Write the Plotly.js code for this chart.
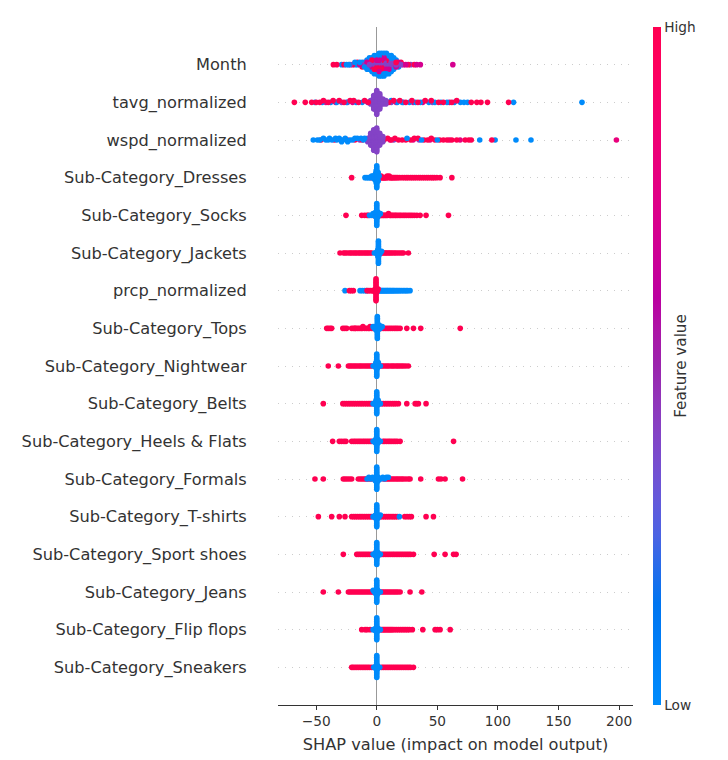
<!DOCTYPE html>
<html>
<head>
<meta charset="utf-8">
<script src="https://cdn.plot.ly/plotly-3.0.1.min.js"></script>
<style>html,body{margin:0;padding:0;background:#fff;}#chart{width:728px;height:760px;}</style>
</head>
<body>
<div id="chart"></div>
<script>
// ---------------- DATA (SHAP values) ----------------
const features = ['Month','tavg_normalized','wspd_normalized','Sub-Category_Dresses','Sub-Category_Socks',
  'Sub-Category_Jackets','prcp_normalized','Sub-Category_Tops','Sub-Category_Nightwear','Sub-Category_Belts',
  'Sub-Category_Heels & Flats','Sub-Category_Formals','Sub-Category_T-shirts','Sub-Category_Sport shoes',
  'Sub-Category_Jeans','Sub-Category_Flip flops','Sub-Category_Sneakers'];
const xTickVals = [-50, 0, 50, 100, 150, 200];
const xTickText = ['\u221250', '0', '50', '100', '150', '200'];
const colorTickText = ['Low', 'High'];

// Month (continuous feature: groups by feature value)
const month_high  = [-35.8,-33,-27,26,31,-20,-16,-12,-8,-6,-4,-2,-2,0,0,2,2,4,4,6,6,8,8,10,10,12,14,16,20];
const month_upper = [24,33,36,62.8,-14,-10,-8,-6,-6,-4,-4,-2,-2,0,0,2,2,2,4,4,4,6,6,8,8,10,10,12,12,14,16,18,22];
const month_mid   = [-22,28,-12,-10,-8,-6,-4,-4,-2,-2,0,0,2,2,4,4,6,6,6,8,8,10,10,12,12,14,16,18,20];
const month_low   = [-29,-25,-23,-18,-18,-16,-14,-12,-10,-8,-8,-6,-6,-4,-4,-2,-2,-2,0,0,0,2,2,2,2,4,4,4,4,6,6,6,6,8,8,8,8,10,10,10,12,12,12,14,14,14,16,18];

// tavg_normalized
const tavg_high  = [-68,-59,-53.7,-50,-47,-44,-40,-36,-31,-27,-22,-19,-15,-10,-7,10,14,19,24,29,34,40,45,51,55,62,66,78,82.6,86,91.4,108.8];
const tavg_upper = [-42,-34,-20,16,30,38,60];
const tavg_low   = [-51,-45,-38,-33,-25,-17,-12,8,12,17,21,27,32,36,43,48,53,58,64,69,72,75,112.9,169.4];
const tavg_mid   = [-29,-24,12,22,46,-7.5,-5,-5,-5,-2.5,-2.5,-2.5,-2.5,-2.5,-2.5,-2.5,-2.5,-2.5,
  0,0,0,0,0,0,0,0,0,0,0,0,0,0,0,2.5,2.5,2.5,2.5,2.5,2.5,2.5,2.5,2.5,2.5,5,5,5,5,7.5,7.5];

// wspd_normalized
const wspd_high  = [-46,-35,-24,-18,-12,6,9,12,15,18,21,24,28,31,34,39,42,45,48,52,55,58,62,66,73,76,78,95];
const wspd_upper = [11,30,44,60,68.8,197.8];
const wspd_low   = [-52.4,-49,-47,-44,-42,-40,-39,-37,-34,-33,-31,-29,-28,-26,-24,-22,-20,-18,-16,-13,-11,-10,25,37,50,85,97.7,114.9,127.3];
const wspd_mid   = [-30,-14,14,35,-7.5,-7.5,-7.5,-5,-5,-5,-5,-5,-5,-5,-5,-2.5,-2.5,-2.5,-2.5,-2.5,-2.5,-2.5,-2.5,-2.5,-2.5,-2.5,-2.5,-2.5,
  0,0,0,0,0,0,0,0,0,0,0,0,0,0,0,2.5,2.5,2.5,2.5,2.5,2.5,2.5,2.5,5,5,5];

// Binary features: SHAP values of rows with feature high (1) and low (0)
const dresses_high = [-20.7,-4.5,1.5,2.3,3,3.6,4.4,5,5.7,6.5,7.2,8,8.6,9.5,10.3,11.2,12,12.8,13.9,15,16.1,17.4,19,21,22.8,24.5,25.9,27.8,29.3,31,32.6,34.5,36,37.8,39.4,41.2,42.7,44.6,46.1,47.6,49.6,52.3,62];
const dresses_low  = [-9.7,-8.2,-6.8,-5.5,-4.2,-3,-3,-2,-2,-2,-1.2,-1.2,-1.2,-1.2,-0.5,-0.5,-0.5,-0.5,0,0,0,0,0,0,0,0,0,0,0,0,0,0,0.6,0.6,0.6,0.6,1.2,1.2,2];

const socks_high = [-25.4,-12.4,-10,-8,-7,-3,2.7,3.4,4.3,5.2,6,7,7.8,8.9,9.7,10.8,11.6,12.7,13.8,15.1,16,17.4,18.8,20,21.6,23,24.4,26.1,27.6,29.2,31,33.1,35.8,40.7,59.2];
const socks_low  = [-6,-4.5,-3,-2.2,-1.5,-1.5,-0.8,-0.8,-0.8,-0.8,0,0,0,0,0,0,0,0,0,0,0,0,0,0,0.8,0.8,0.8,0.8,1.5,1.5,2.2,3];

const jackets_high = [-30.3,-27.5,-26.2,-24.8,-23,-21.7,-20.5,-19,-17.8,-16.6,-15.2,-14,-12.9,-11.5,-10.3,-9,-7.9,-6.6,-5.4,-4.1,4.1,5.1,6.2,7.3,8.3,9.5,10.6,11.8,13.1,14.5,15.8,17.4,19,20.6,22,26.1];
const jackets_low  = [-2,-1,-0.5,0.5,0.5,1,1,1,1.4,1.4,1.4,1.4,1.4,1.4,1.4,1.4,1.4,1.4,1.4,1.4,1.4,1.4,2,2,2,2.5,2.5,3,4];

const prcp_low  = [-26.2,-13.8,-12,-10,-8.3,1.4,2.2,2.9,3.5,4.3,5,5.6,6.4,7.1,7.9,8.6,9.2,10.1,10.9,11.6,12.5,13.3,14.1,15,16.1,17,18.2,19.2,20.5,21.8,23.1,24.4,25.6,27.5];
const prcp_high = [-22.6,-21,-19.3,-8,-6.5,-5,-3.5,-2.5,-2,-1.5,-1.2,-1.2,-1.2,-0.6,-0.6,-0.6,-0.6,-0.6,-0.6,-0.6,-0.6,-0.6,-0.6,-0.6,-0.6,-0.6,-0.6,0,0,0,0.6,1.2];

const tops_high = [-41.3,-40,-38.5,-37.2,-28,-26.4,-24.8,-20.7,-19.2,-18,-17.5,-16,-14.6,-13,-12,-11.4,-10,-8.5,-7,-6,-5.5,-4,-2.5,4,5.5,7,8.5,10,11.5,13,14.6,16,17.5,19.3,24.8,30.3,36.3,68.9];
const tops_low  = [-3,-2,-1.2,-0.6,-0.6,-0.6,0.5,0.5,0.5,0.5,0.5,0.5,0.5,0.5,0.5,0.5,0.5,0.5,0.5,0.5,1.2,1.2,1.2,2,3,4.5];

const nightwear_high = [-40,-31.7,-23.4,-22,-20.6,-19.1,-17.7,-16.2,-14.6,-13.2,-11.7,-10.1,-8.6,-7.1,-5.6,-4.1,4,5.4,7,8.5,9.9,11.6,13,14.4,16.1,17.5,19,20.6,22.1,24,26.1];
const nightwear_low  = [-3,-2,-1.3,-0.7,-0.7,-0.7,0,0,0,0,0,0,0,0,0,0,0,0,0,0,0.7,0.7,0.7,1.3,2,3];

const belts_high = [-44.1,-28,-26.5,-25,-23.4,-22,-20.5,-19,-17.6,-16,-14.5,-13,-11.6,-10,-8.5,-7,-5.6,-4.1,4,5.5,7.1,8.5,10,11.5,13.1,14.5,16,17.9,24.8,31.7,33,34.4,40.7];
const belts_low  = [-3,-2,-1.2,-0.6,-0.6,-0.6,0,0,0,0,0,0,0,0,0,0,0,0,0,0,0.6,0.6,0.6,1.2,2,3];

const heels_high = [-36.4,-30.9,-29,-27,-25.4,-20.7,-19,-17.6,-16,-14.5,-13,-11.4,-10,-8.5,-7,-5.5,-4.1,5.2,6.5,8,9.6,11,12.5,14.1,15.5,17,19.3,63.4];
const heels_low  = [-3,-2,-1,-1,-1,0,0,0,0,0,0,0,0,0,0,0,0,0,0,1,1,1,2,3];

const formals_high = [-51,-44.1,-27.6,-26,-24.3,-22.5,-20.7,-15.2,-13.5,-12,-10.4,-9,-7.5,-6,-4.1,5.5,7,8.6,10,11.5,13,14.5,16.1,17.5,19,20.6,22,24,26,27.5,36.3,50.9,53,56.4,70.8];
const formals_low  = [-8,-6.5,-5,-3.5,-2.5,-1.2,-1.2,-1.2,0,0,0,0,0,0,0,0,0,0,0,0,0,0,1.2,1.2,1.2,2.5,3.5,5,6.5,8,9.6];

const tshirts_high = [-48.2,-37.2,-30.9,-26.2,-20.7,-19,-17.5,-16,-14.4,-13,-11.5,-10,-8.5,-7,-5.5,-4.1,3.3,5,6.5,8,9.5,11,12.6,14,15.5,17,23.1,25,27,28.6,40.7,46.8];
const tshirts_low  = [-3,-2,-1,-1,-1,0,0,0,0,0,0,0,0,0,0,0,0,0,0,1,1,1,2,3,18.7];

const sport_high = [-27.6,-16.5,-15,-13.5,-12,-10.5,-9,-7.5,-6,-4.1,4.1,5.5,7,8.5,10,11.5,13,14.4,16,17.5,19,20.5,22,23.5,25,26.5,28,30.3,47.4,56.4,63.4,65.5];
const sport_low  = [-3,-2,-1,-1,-1,0,0,0,0,0,0,0,0,0,0,0,0,0,0,1,1,1,2,3];

const jeans_high = [-44.1,-31.7,-23.4,-22,-20.5,-19,-17.5,-16,-14.5,-13,-11.5,-10,-8.5,-7,-5.5,-4,-2.8,4.1,5.5,7,8.5,10,11.5,13,14.5,16,17.5,19.3,27.5,37.2];
const jeans_low  = [-3,-2,-0.8,-0.8,-0.8,0,0,0,0,0,0,0,0,0,0,0,0,0,0,0.8,0.8,0.8,2,3];

const flip_high = [-12.4,-9.6,-8,-5.5,3.3,4.5,5.5,6.5,7.5,8.5,9.5,10.5,11.5,12.5,13.5,15,16.5,18,19.5,21,22.5,24,25.5,27,29.4,38,48.2,50,52.3,60.6];
const flip_low  = [-3,-2,-0.7,-0.7,-0.7,0,0,0,0,0,0,0,0,0,0,0,0,0,0,0.7,0.7,0.7,2,3];

const sneakers_high = [-20.7,-19.5,-18,-16.5,-15,-13.5,-12,-10.5,-9,-7.5,-6,-4.1,4.1,5.5,7,8.5,10,11.5,13,14.5,16,17.5,19,20.5,22,23.5,25,26.5,28,30.3];
const sneakers_low  = [-2.5,-1.5,-0.5,-0.5,-0.5,0,0,0,0,0,0,0,0,0,0,0,0,0,0,0.5,0.5,0.5,1.5,2.5];

// ---------------- assembly ----------------
// continuous rows: groups [values, featureValue], interleaved in drawing order
const continuousRows = {
  'Month': [[month_low,0.0],[month_mid,0.4],[month_high,1.0],[month_upper,0.7]],
  'tavg_normalized': [[tavg_high,1.0],[tavg_upper,0.75],[tavg_low,0.0],[tavg_mid,0.4]],
  'wspd_normalized': [[wspd_high,1.0],[wspd_upper,0.8],[wspd_low,0.0],[wspd_mid,0.4]]
};
// binary rows: [spread group, cluster group] - cluster drawn on top
const binaryRows = {
  'Sub-Category_Dresses': [[dresses_high,1],[dresses_low,0]],
  'Sub-Category_Socks': [[socks_high,1],[socks_low,0]],
  'Sub-Category_Jackets': [[jackets_high,1],[jackets_low,0]],
  'prcp_normalized': [[prcp_low,0],[prcp_high,1]],
  'Sub-Category_Tops': [[tops_high,1],[tops_low,0]],
  'Sub-Category_Nightwear': [[nightwear_high,1],[nightwear_low,0]],
  'Sub-Category_Belts': [[belts_high,1],[belts_low,0]],
  'Sub-Category_Heels & Flats': [[heels_high,1],[heels_low,0]],
  'Sub-Category_Formals': [[formals_high,1],[formals_low,0]],
  'Sub-Category_T-shirts': [[tshirts_high,1],[tshirts_low,0]],
  'Sub-Category_Sport shoes': [[sport_high,1],[sport_low,0]],
  'Sub-Category_Jeans': [[jeans_high,1],[jeans_low,0]],
  'Sub-Category_Flip flops': [[flip_high,1],[flip_low,0]],
  'Sub-Category_Sneakers': [[sneakers_high,1],[sneakers_low,0]]
};

// shap-style beeswarm vertical offsets
function swarm(xs){
  const N = xs.length, mn = Math.min(...xs), mx = Math.max(...xs);
  const q = xs.map(x => Math.round(100 * (x - mn) / (mx - mn + 1e-8)));
  const idx = [...Array(N).keys()].sort((a,b) => (q[a]-q[b]) || (a-b));
  const ys = new Array(N).fill(0);
  let layer = 0, last = -1;
  for (const i of idx){
    if (q[i] !== last) layer = 0;
    ys[i] = Math.ceil(layer/2) * ((layer % 2) * 2 - 1);
    layer++; last = q[i];
  }
  const m = Math.max(...ys.map(y => y + 1));
  return ys.map(y => y * 0.9 * (0.4 / m));
}

// shap red_blue colormap (LCH interpolation)
function lab2rgb(L,a,b){
  const fy=(L+16)/116, fx=fy+a/500, fz=fy-b/200;
  const f=t=> t>6/29 ? t*t*t : 3*(6/29)*(6/29)*(t-4/29);
  const X=0.95047*f(fx), Y=f(fy), Z=1.08883*f(fz);
  const r=3.2406*X-1.5372*Y-0.4986*Z, g=-0.9689*X+1.8758*Y+0.0415*Z, bl=0.0557*X-0.2040*Y+1.0570*Z;
  const gam=c=>{c=Math.max(0,Math.min(1,c));return c<=0.0031308?12.92*c:1.055*Math.pow(c,1/2.4)-0.055;};
  return [r,g,bl].map(c=>Math.round(255*gam(c)));
}
const colorscale = [];
for (let k=0;k<=20;k++){
  const t=k/20;
  const L = t<=0.5 ? 54+(40-54)*(t/0.5) : 40+(54-40)*((t-0.5)/0.5);
  const C = 70+(90-70)*t;
  const H = 4.6588+((0.35470565+2*Math.PI)-4.6588)*t;
  const rgb = lab2rgb(L, C*Math.cos(H), C*Math.sin(H));
  colorscale.push([t,'rgb('+rgb.join(',')+')']);
}

const X=[], Y=[], C=[];
features.forEach((name, i) => {
  const pos = features.length - 1 - i;
  let xs=[], cs=[];
  const cont = !!continuousRows[name];
  if (cont){
    const groups = continuousRows[name];
    const maxLen = Math.max(...groups.map(g=>g[0].length));
    for (let k=0;k<maxLen;k++) groups.forEach(g=>{ if (k<g[0].length){ xs.push(g[0][k]); cs.push(g[1]); } });
  } else {
    binaryRows[name].forEach(g=>{ g[0].forEach(v=>{ xs.push(v); cs.push(g[1]); }); });
  }
  const ys = swarm(xs);
  let order = [...xs.keys()];
  if (name === 'Month'){
    // mixed drawing order so that every colour shows through the dense blob
    order.sort((a,b) => ((a*0.6180339887)%1) - ((b*0.6180339887)%1));
  }
  order.forEach(k=>{ X.push(xs[k]); Y.push(pos+ys[k]); C.push(cs[k]); });
});

const trace = {
  type:'scatter', mode:'markers', x:X, y:Y, hoverinfo:'skip',
  marker:{size:5.6, color:C, cmin:0, cmax:1, colorscale:colorscale, opacity:1, line:{width:0},
    showscale:true,
    colorbar:{x:1.056, xanchor:'left', xpad:0, y:0.5, yanchor:'middle', ypad:0, len:1, lenmode:'fraction',
      thickness:8, outlinewidth:0, tickvals:[0,1], ticktext:colorTickText, ticks:'', ticklen:0,
      tickfont:{family:'DejaVu Sans', size:13.7, color:'#333'},
      title:{text:'Feature value', side:'right', font:{family:'DejaVu Sans', size:15.2, color:'#333'}}}}
};

const layout = {
  width:728, height:760,
  margin:{l:278, r:95, t:27, b:55},
  paper_bgcolor:'#fff', plot_bgcolor:'#fff', showlegend:false,
  font:{family:'DejaVu Sans', color:'#333'},
  xaxis:{range:[-81.5,211.5], tickvals:xTickVals, ticktext:xTickText, ticks:'outside', ticklen:4, tickwidth:1,
    tickcolor:'#333', showline:true, linecolor:'#333', linewidth:1, showgrid:false,
    zeroline:true, zerolinecolor:'#999', zerolinewidth:1.3,
    tickfont:{size:13.7, color:'#333'},
    title:{text:'SHAP value (impact on model output)', font:{size:16.2, color:'#333'}, standoff:10}},
  yaxis:{range:[-1,17], tickvals:features.map((_,i)=>features.length-1-i), ticktext:features,
    showgrid:true, gridcolor:'#cccccc', griddash:'1px,6px', gridwidth:1, zeroline:false, showline:false,
    ticks:'outside', ticklen:27, tickcolor:'rgba(0,0,0,0)', tickfont:{size:16.2, color:'#333'}, fixedrange:true}
};

Plotly.newPlot('chart', [trace], layout, {displayModeBar:false, staticPlot:true});
</script>
</body>
</html>
